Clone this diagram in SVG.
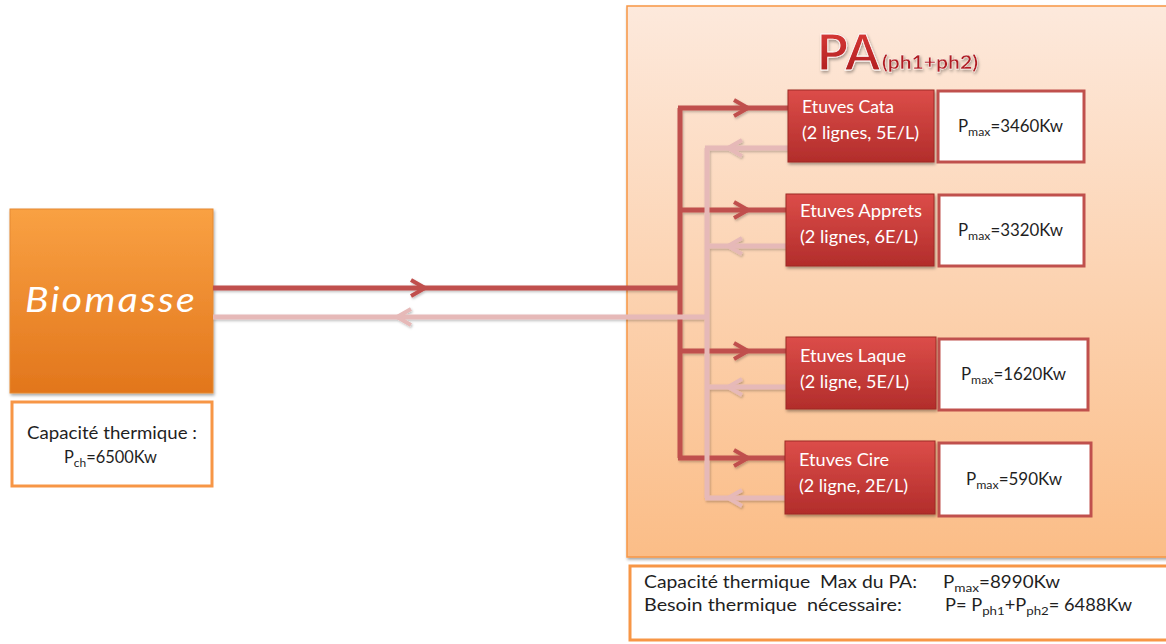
<svg xmlns="http://www.w3.org/2000/svg" width="1166" height="644" viewBox="0 0 1166 644">
  <style>
    .lbl { font-family: Lato, "Liberation Sans", sans-serif; font-size: 16.5px; fill: #1f1f1f; }
    .wlbl { font-family: Lato, "Liberation Sans", sans-serif; font-size: 17px; fill: #ffffff; }
    .sub { font-size: 12px; }
    .etuve { fill: url(#redGrad); stroke: #9e2a27; stroke-width: 1; filter: url(#shadow); }
    .pbox { fill: #ffffff; stroke: #c0504d; stroke-width: 3; }
    .supply { fill: none; stroke: #c0504d; stroke-width: 5; }
    .ret { fill: none; stroke: #e6b9b8; stroke-width: 5; }
  </style>
  <defs>
    <linearGradient id="paGrad" x1="0" y1="0" x2="0" y2="1">
      <stop offset="0" stop-color="#fde9dc"/>
      <stop offset="1" stop-color="#fbbd87"/>
    </linearGradient>
    <linearGradient id="bioGrad" x1="0" y1="0" x2="0" y2="1">
      <stop offset="0" stop-color="#f9a143"/>
      <stop offset="1" stop-color="#e2761c"/>
    </linearGradient>
    <linearGradient id="redGrad" x1="0" y1="0" x2="0" y2="1">
      <stop offset="0" stop-color="#dc4d49"/>
      <stop offset="1" stop-color="#b22d2b"/>
    </linearGradient>
    <linearGradient id="titleGrad" x1="0" y1="0" x2="0" y2="1">
      <stop offset="0" stop-color="#e0403c"/>
      <stop offset="1" stop-color="#a8181c"/>
    </linearGradient>
    <filter id="shadow" x="-10%" y="-10%" width="125%" height="130%">
      <feDropShadow dx="1" dy="2" stdDeviation="1.5" flood-color="#000" flood-opacity="0.35"/>
    </filter>
    <filter id="lineShadow" x="-5%" y="-20%" width="110%" height="140%">
      <feDropShadow dx="1" dy="1.5" stdDeviation="1" flood-color="#000" flood-opacity="0.25"/>
    </filter>
    <marker id="arrowRed" markerUnits="userSpaceOnUse" viewBox="-16 -10 18 20" markerWidth="18" markerHeight="20" refX="0" refY="0" orient="auto" overflow="visible">
      <path d="M-14,-8 L0,0 L-14,8" fill="none" stroke="#c0504d" stroke-width="4" stroke-linejoin="miter"/>
    </marker>
    <marker id="arrowPink" markerUnits="userSpaceOnUse" viewBox="-16 -10 18 20" markerWidth="18" markerHeight="20" refX="0" refY="0" orient="auto" overflow="visible">
      <path d="M-14,-8 L0,0 L-14,8" fill="none" stroke="#e6b9b8" stroke-width="4" stroke-linejoin="miter"/>
    </marker>
  </defs>

  <rect width="1166" height="644" fill="#ffffff"/>

  <!-- PA plant frame -->
  <g id="pa">
    <rect x="627" y="6" width="545" height="551" fill="url(#paGrad)" stroke="#f79646" stroke-width="1.5" filter="url(#shadow)"/>
    <text x="817" y="70" textLength="63" lengthAdjust="spacingAndGlyphs" font-family="Lato, 'Liberation Sans', sans-serif" font-weight="bold" font-size="50" fill="url(#titleGrad)" stroke="#ffffff" stroke-width="0.8" filter="url(#shadow)">PA</text>
    <text x="882" y="69" textLength="96" lengthAdjust="spacingAndGlyphs" font-family="Lato, 'Liberation Sans', sans-serif" font-weight="bold" font-size="18" fill="#b01e22" stroke="#ffffff" stroke-width="0.3" filter="url(#shadow)">(ph1+ph2)</text>
  </g>

  <!-- Biomass boiler -->
  <g id="biomasse">
    <rect x="10" y="209" width="203" height="184" fill="url(#bioGrad)" stroke="#e58a33" stroke-width="1" filter="url(#shadow)"/>
    <text x="25" y="312" textLength="172" lengthAdjust="spacingAndGlyphs" font-family="Lato, 'Liberation Sans', sans-serif" font-style="italic" font-size="34" letter-spacing="2" fill="#ffffff">Biomasse</text>
  </g>
  <g id="biomasse-capacite">
    <rect x="12" y="402" width="200" height="84" fill="#ffffff" stroke="#f79646" stroke-width="3"/>
    <text class="lbl" x="27" y="439" textLength="170" lengthAdjust="spacingAndGlyphs">Capacité thermique :</text>
    <text class="lbl" x="64" y="463" textLength="93" lengthAdjust="spacingAndGlyphs">P<tspan class="sub" dy="4">ch</tspan><tspan dy="-4">=6500Kw</tspan></text>
  </g>

  <!-- Connectors: supply (dark red) and return (light pink) -->
  <g id="connectors" filter="url(#lineShadow)">
    <polyline class="supply" points="213,288 425,288 680,288" marker-mid="url(#arrowRed)"/>
    <polyline class="supply" points="680,108 680,458"/>
    <polyline class="supply" points="678,108 748,108 788,108" marker-mid="url(#arrowRed)"/>
    <polyline class="supply" points="680,210 748,210 786,210" marker-mid="url(#arrowRed)"/>
    <polyline class="supply" points="680,351 748,351 786,351" marker-mid="url(#arrowRed)"/>
    <polyline class="supply" points="678,458 748,458 785,458" marker-mid="url(#arrowRed)"/>

    <polyline class="ret" points="707,317 397,317 213,317" marker-mid="url(#arrowPink)"/>
    <polyline class="ret" points="707,148 707,498"/>
    <polyline class="ret" points="788,148 728,148 705,148" marker-mid="url(#arrowPink)"/>
    <polyline class="ret" points="786,246 728,246 707,246" marker-mid="url(#arrowPink)"/>
    <polyline class="ret" points="786,387 728,387 707,387" marker-mid="url(#arrowPink)"/>
    <polyline class="ret" points="785,498 728,498 705,498" marker-mid="url(#arrowPink)"/>
  </g>

  <!-- Drying ovens -->
  <g id="etuves-cata">
    <rect class="etuve" x="788" y="90" width="146" height="72"/>
    <text class="wlbl" x="802" y="113" textLength="92" lengthAdjust="spacingAndGlyphs">Etuves Cata</text>
    <text class="wlbl" x="802" y="139" textLength="117" lengthAdjust="spacingAndGlyphs">(2 lignes, 5E/L)</text>
  </g>
  <g id="pmax-cata">
    <rect class="pbox" x="938" y="91" width="146" height="71"/>
    <text class="lbl" x="958" y="132" textLength="105" lengthAdjust="spacingAndGlyphs">P<tspan class="sub" dy="4">max</tspan><tspan dy="-4">=3460Kw</tspan></text>
  </g>

  <g id="etuves-apprets">
    <rect class="etuve" x="786" y="194" width="148" height="72"/>
    <text class="wlbl" x="800" y="217" textLength="122" lengthAdjust="spacingAndGlyphs">Etuves Apprets</text>
    <text class="wlbl" x="800" y="243" textLength="118" lengthAdjust="spacingAndGlyphs">(2 lignes, 6E/L)</text>
  </g>
  <g id="pmax-apprets">
    <rect class="pbox" x="939" y="195" width="145" height="71"/>
    <text class="lbl" x="958" y="236" textLength="105" lengthAdjust="spacingAndGlyphs">P<tspan class="sub" dy="4">max</tspan><tspan dy="-4">=3320Kw</tspan></text>
  </g>

  <g id="etuves-laque">
    <rect class="etuve" x="786" y="337" width="150" height="72"/>
    <text class="wlbl" x="800" y="362" textLength="106" lengthAdjust="spacingAndGlyphs">Etuves Laque</text>
    <text class="wlbl" x="800" y="388" textLength="109" lengthAdjust="spacingAndGlyphs">(2 ligne, 5E/L)</text>
  </g>
  <g id="pmax-laque">
    <rect class="pbox" x="939" y="339" width="149" height="71"/>
    <text class="lbl" x="961" y="380" textLength="105" lengthAdjust="spacingAndGlyphs">P<tspan class="sub" dy="4">max</tspan><tspan dy="-4">=1620Kw</tspan></text>
  </g>

  <g id="etuves-cire">
    <rect class="etuve" x="785" y="441" width="150" height="73"/>
    <text class="wlbl" x="799" y="466" textLength="90" lengthAdjust="spacingAndGlyphs">Etuves Cire</text>
    <text class="wlbl" x="799" y="492" textLength="109" lengthAdjust="spacingAndGlyphs">(2 ligne, 2E/L)</text>
  </g>
  <g id="pmax-cire">
    <rect class="pbox" x="939" y="443" width="152" height="73"/>
    <text class="lbl" x="966" y="485" textLength="96" lengthAdjust="spacingAndGlyphs">P<tspan class="sub" dy="4">max</tspan><tspan dy="-4">=590Kw</tspan></text>
  </g>

  <!-- Plant totals -->
  <g id="pa-bilan">
    <rect x="630" y="566" width="545" height="74" fill="#ffffff" stroke="#f79646" stroke-width="3"/>
    <text class="lbl" x="644" y="588" textLength="273" lengthAdjust="spacingAndGlyphs" xml:space="preserve">Capacité thermique  Max du PA:</text>
    <text class="lbl" x="943" y="588" textLength="117" lengthAdjust="spacingAndGlyphs">P<tspan class="sub" dy="4">max</tspan><tspan dy="-4">=8990Kw</tspan></text>
    <text class="lbl" x="644" y="611" textLength="258" lengthAdjust="spacingAndGlyphs" xml:space="preserve">Besoin thermique  nécessaire:</text>
    <text class="lbl" x="945" y="611" textLength="187" lengthAdjust="spacingAndGlyphs">P= P<tspan class="sub" dy="4">ph1</tspan><tspan dy="-4">+P</tspan><tspan class="sub" dy="4">ph2</tspan><tspan dy="-4">= 6488Kw</tspan></text>
  </g>
</svg>
